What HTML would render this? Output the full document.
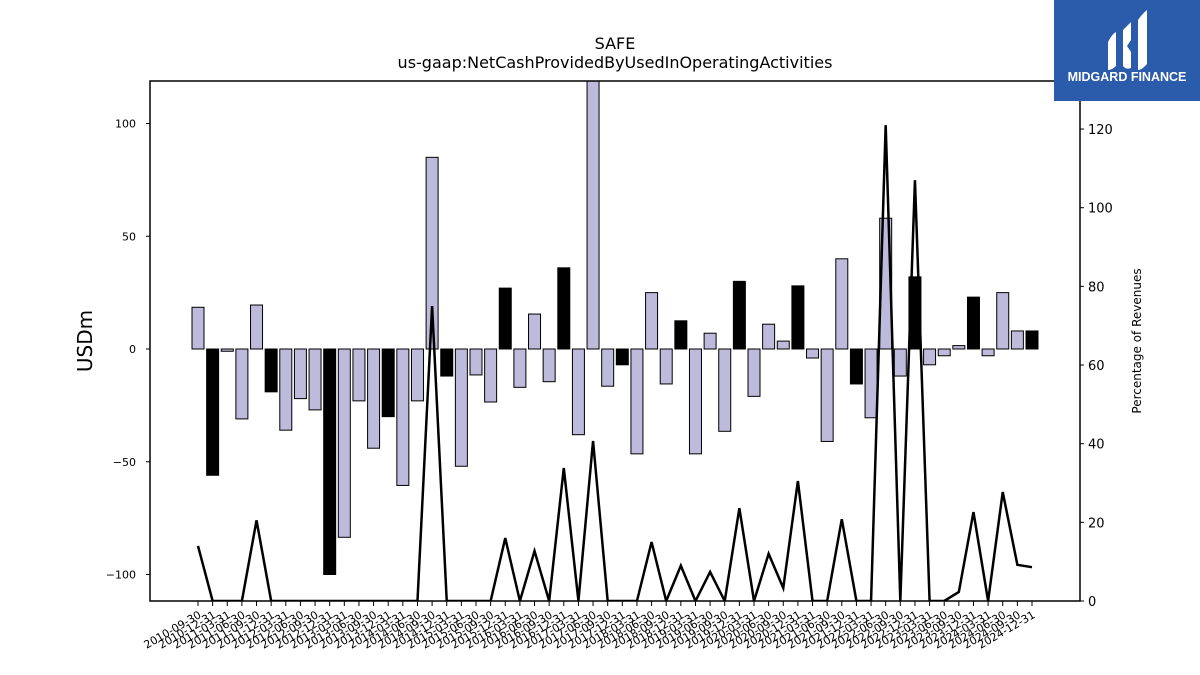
<!DOCTYPE html>
<html><head><meta charset="utf-8"><style>
body{margin:0;background:#fff;}
svg{display:block;font-family:"DejaVu Sans","Liberation Sans",sans-serif;}
</style></head><body>
<svg id="chart" width="1200" height="675" viewBox="0 0 1200 675">
<rect width="1200" height="675" fill="#fff"/>
<text x="615" y="49" text-anchor="middle" font-size="16">SAFE</text>
<text x="615" y="68" text-anchor="middle" font-size="16">us-gaap:NetCashProvidedByUsedInOperatingActivities</text>
<text transform="translate(92,341) rotate(-90)" text-anchor="middle" font-size="20">USDm</text>
<text transform="translate(1141,341) rotate(-90)" text-anchor="middle" font-size="12">Percentage of Revenues</text>
<g id="bars"></g>
<g id="line"></g>
<g id="axes"></g>
<g>
<rect x="1054" y="0" width="146" height="101" fill="#2b5bab"/>
<path d="M1108 42 Q1112 34 1116 32 L1116 66 Q1112 70 1108 70 Z" fill="#fff"/>
<path d="M1123 30 L1131 22 L1131 40 L1127 46 L1131 52 L1131 68 Q1126 70 1123 66 Z" fill="#fff"/>
<path d="M1138 20 Q1142 14 1147 10 L1147 64 Q1142 70 1138 70 Z" fill="#fff"/>
<text x="1127" y="81" text-anchor="middle" font-size="12.5" font-weight="bold" fill="#fff" font-family="Liberation Sans, sans-serif">MIDGARD FINANCE</text>
</g>
</svg>
<script>
const categories=["2010-09-30","2010-12-31","2011-03-31","2011-06-30","2011-09-30","2011-12-31","2012-03-31","2012-06-30","2012-09-30","2012-12-31","2013-03-31","2013-06-30","2013-09-30","2013-12-31","2014-03-31","2014-06-30","2014-09-30","2014-12-31","2015-03-31","2015-06-30","2015-09-30","2015-12-31","2016-03-31","2016-06-30","2016-09-30","2016-12-31","2017-03-31","2017-06-30","2017-09-30","2017-12-31","2018-03-31","2018-06-30","2018-09-30","2018-12-31","2019-03-31","2019-06-30","2019-09-30","2019-12-31","2020-03-31","2020-06-30","2020-09-30","2020-12-31","2021-03-31","2021-06-30","2021-09-30","2021-12-31","2022-03-31","2022-06-30","2022-09-30","2022-12-31","2023-03-31","2023-06-30","2023-09-30","2023-12-31","2024-03-31","2024-06-30","2024-09-30","2024-12-31"];
const cashFlow=[18.5,-56,-1,-31,19.5,-19,-36,-22,-27,-100,-83.5,-23,-44,-30,-60.5,-23,85,-12,-52,-11.5,-23.5,27,-17,15.5,-14.5,36,-38,125,-16.5,-7,-46.5,25,-15.5,12.5,-46.5,7,-36.5,30,-21,11,3.5,28,-4,-41,40,-15.5,-30.5,58,-12,32,-7,-3,1.5,23,-3,25,8,8];
const pctRevenue=[14,0,0,0,20.5,0,0,0,0,0,0,0,0,0,0,0,75,0,0,0,0,16,0,12.7,0,33.8,0,40.7,0,0,0,15,0,9,0,7.4,0,23.6,0,12,3.3,30.5,0,0,20.8,0,0,121,0,107,0,0,2.3,22.6,0,27.7,9.2,8.6];
const leftTicks=[100,50,0,-50,-100];
const rightTicks=[0,20,40,60,80,100,120];

const NS="http://www.w3.org/2000/svg";
const L=150,R=1080,T=81,B=601;
const y=v=>349-v*2.255;
const y2=v=>601-v*3.933;
const x=i=>198+i*(1032-198)/(categories.length-1);
function mk(tag,attrs,parent){const e=document.createElementNS(NS,tag);for(const k in attrs)e.setAttribute(k,attrs[k]);parent.appendChild(e);return e;}
const bars=document.getElementById('bars'),line=document.getElementById('line'),axes=document.getElementById('axes');
// clip
const defs=mk('defs',{},document.getElementById('chart'));
const cp=mk('clipPath',{id:'plot'},defs);mk('rect',{x:L,y:T,width:R-L,height:B-T},cp);
bars.setAttribute('clip-path','url(#plot)');line.setAttribute('clip-path','url(#plot)');
cashFlow.forEach((v,i)=>{
  const y0=Math.min(y(v),y(0)),h=Math.abs(y(v)-y(0));
  const r=mk('rect',{x:x(i)-6,y:y0,width:12,height:h,fill:(i%4===1)?'#000':'#bdbadb',stroke:'#000','stroke-width':1},bars);
  
  
});
const pts=pctRevenue.map((v,i)=>x(i)+','+y2(v)).join(' ');
const pl=mk('polyline',{points:pts,fill:'none',stroke:'#000','stroke-width':2.5},line);


const fr=mk('rect',{x:L,y:T,width:R-L,height:B-T,fill:'none',stroke:'#000','stroke-width':1.5},axes);


leftTicks.forEach(v=>{
  mk('line',{x1:L-4,x2:L,y1:y(v),y2:y(v),stroke:'#000'},axes);
  const t=mk('text',{x:L-14,y:y(v)+4,'text-anchor':'end','font-size':11},axes);
  t.textContent=v<0?'\u2212'+(-v):String(v);
  
  
});
rightTicks.forEach(v=>{
  mk('line',{x1:R,x2:R+4,y1:y2(v),y2:y2(v),stroke:'#000'},axes);
  const t=mk('text',{x:R+8,y:y2(v)+5,'font-size':13},axes);
  t.textContent=String(v);
  
  
});
categories.forEach((c,i)=>{
  mk('line',{x1:x(i),x2:x(i),y1:B,y2:B+5,stroke:'#000'},axes);
  const t=mk('text',{transform:'translate('+(x(i)+4)+','+(B+16)+') rotate(-30)','text-anchor':'end','font-size':11},axes);
  t.textContent=c;
  
  
});
</script>
</body></html>
